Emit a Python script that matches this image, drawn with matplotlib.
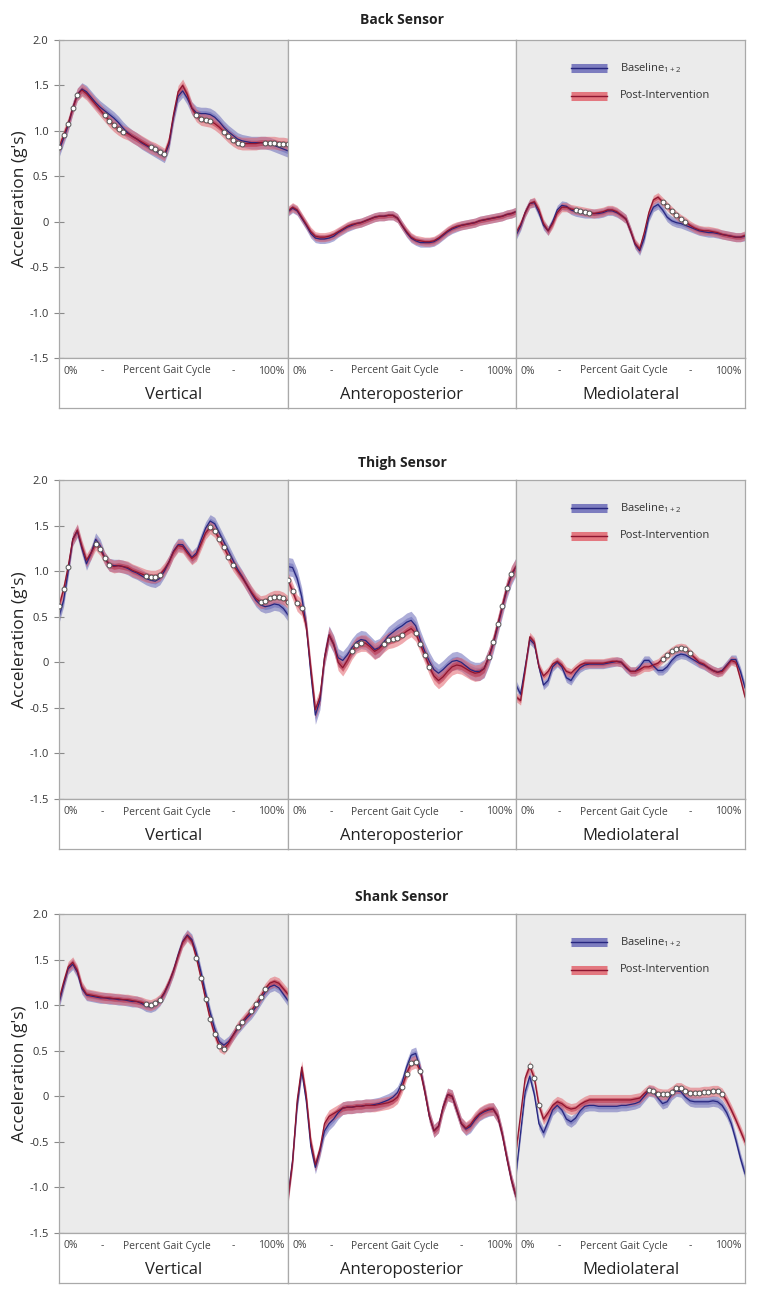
import numpy as np
import matplotlib
matplotlib.use("Agg")
import matplotlib.pyplot as plt

plt.rcParams['font.family'] = ['Open Sans', 'DejaVu Sans']
plt.rcParams['mathtext.fontset'] = 'custom'
plt.rcParams['mathtext.rm'] = 'Open Sans'

# ---------------- data ----------------
percent = list(range(0, 101, 2))

sensors = ["Back Sensor", "Thigh Sensor", "Shank Sensor"]
directions = ["Vertical", "Anteroposterior", "Mediolateral"]
ytick_values = [-1.5, -1.0, -0.5, 0, 0.5, 1.0, 1.5, 2.0]
ytick_labels = ["-1.5", "-1.0", "-0.5", "0", "0.5", "1.0", "1.5", "2.0"]
legend_labels = ["Baseline$_{1+2}$", "Post-Intervention"]

# Back sensor
back_vert_base = [0.78, 0.92, 1.06, 1.25, 1.40, 1.46, 1.43, 1.37, 1.31, 1.26, 1.22, 1.18, 1.14, 1.09, 1.03, 0.98,
                  0.94, 0.91, 0.87, 0.84, 0.81, 0.78, 0.75, 0.72, 0.85, 1.15, 1.38, 1.44, 1.36, 1.25, 1.20, 1.19,
                  1.19, 1.18, 1.15, 1.10, 1.04, 0.99, 0.95, 0.91, 0.89, 0.88, 0.87, 0.87, 0.87, 0.87, 0.86, 0.84,
                  0.82, 0.80, 0.78]
back_vert_post = [0.82, 0.95, 1.08, 1.25, 1.40, 1.45, 1.41, 1.35, 1.29, 1.23, 1.17, 1.11, 1.06, 1.02, 0.99, 0.97,
                  0.94, 0.91, 0.88, 0.85, 0.82, 0.80, 0.77, 0.74, 0.88, 1.18, 1.43, 1.50, 1.40, 1.25, 1.17, 1.13,
                  1.12, 1.11, 1.08, 1.04, 0.99, 0.94, 0.90, 0.87, 0.86, 0.86, 0.86, 0.86, 0.87, 0.87, 0.87, 0.87,
                  0.86, 0.86, 0.85]
back_vert_sig = [0, 2, 4, 6, 8, 20, 22, 24, 26, 28, 40, 42, 44, 46, 60, 62, 64, 66, 72, 74, 76, 78, 80,
                 90, 92, 94, 96, 98, 100]

back_ap_base = [0.11, 0.15, 0.12, 0.04, -0.04, -0.13, -0.18, -0.19, -0.19, -0.18, -0.16, -0.12, -0.09, -0.06,
                -0.04, -0.02, -0.01, 0.01, 0.03, 0.05, 0.06, 0.06, 0.07, 0.07, 0.04, -0.04, -0.12, -0.18, -0.21,
                -0.23, -0.23, -0.23, -0.22, -0.19, -0.15, -0.11, -0.08, -0.06, -0.04, -0.03, -0.02, -0.01, 0.01,
                0.02, 0.03, 0.04, 0.05, 0.06, 0.08, 0.09, 0.11]
back_ap_post = [0.12, 0.16, 0.13, 0.05, -0.03, -0.11, -0.16, -0.17, -0.17, -0.16, -0.14, -0.11, -0.08, -0.05,
                -0.03, -0.02, -0.01, 0.01, 0.03, 0.05, 0.06, 0.06, 0.07, 0.07, 0.04, -0.04, -0.11, -0.17, -0.20,
                -0.21, -0.22, -0.22, -0.21, -0.18, -0.14, -0.10, -0.07, -0.05, -0.04, -0.03, -0.02, -0.01, 0.01,
                0.02, 0.03, 0.04, 0.05, 0.06, 0.08, 0.09, 0.11]
back_ap_sig = []

back_ml_base = [-0.15, -0.05, 0.10, 0.20, 0.21, 0.10, -0.04, -0.10, 0.00, 0.13, 0.18, 0.17, 0.13, 0.11, 0.10,
                0.09, 0.09, 0.09, 0.09, 0.10, 0.12, 0.12, 0.10, 0.07, 0.03, -0.10, -0.25, -0.32, -0.18, 0.05,
                0.16, 0.19, 0.13, 0.05, 0.01, -0.01, -0.02, -0.04, -0.06, -0.08, -0.10, -0.11, -0.12, -0.12,
                -0.13, -0.14, -0.15, -0.16, -0.17, -0.17, -0.16]
back_ml_post = [-0.12, -0.03, 0.10, 0.20, 0.22, 0.13, -0.02, -0.10, -0.02, 0.10, 0.16, 0.16, 0.14, 0.13, 0.12,
                0.11, 0.10, 0.09, 0.10, 0.11, 0.13, 0.13, 0.11, 0.07, 0.03, -0.10, -0.24, -0.30, -0.12, 0.10,
                0.24, 0.27, 0.22, 0.17, 0.12, 0.07, 0.03, 0.00, -0.04, -0.07, -0.09, -0.10, -0.10, -0.11,
                -0.12, -0.14, -0.15, -0.16, -0.17, -0.17, -0.15]
back_ml_sig = [26, 28, 30, 32, 64, 66, 68, 70, 72, 74]

# Thigh sensor
thigh_vert_base = [0.50, 0.68, 1.00, 1.35, 1.44, 1.25, 1.08, 1.20, 1.35, 1.28, 1.14, 1.07, 1.06, 1.06, 1.05,
                   1.03, 1.00, 0.98, 0.95, 0.92, 0.90, 0.89, 0.92, 1.00, 1.10, 1.22, 1.29, 1.29, 1.22, 1.15,
                   1.20, 1.34, 1.47, 1.55, 1.52, 1.42, 1.32, 1.22, 1.12, 1.02, 0.94, 0.85, 0.76, 0.68, 0.63,
                   0.61, 0.62, 0.64, 0.63, 0.59, 0.52]
thigh_vert_post = [0.62, 0.80, 1.05, 1.35, 1.45, 1.27, 1.12, 1.20, 1.30, 1.24, 1.14, 1.07, 1.05, 1.06, 1.05,
                   1.04, 1.01, 0.99, 0.97, 0.95, 0.94, 0.94, 0.96, 1.02, 1.10, 1.21, 1.28, 1.27, 1.20, 1.14,
                   1.18, 1.30, 1.42, 1.48, 1.44, 1.35, 1.26, 1.16, 1.07, 1.00, 0.93, 0.85, 0.77, 0.70, 0.66,
                   0.67, 0.70, 0.72, 0.72, 0.70, 0.66]
thigh_vert_sig = [0, 2, 4, 16, 18, 20, 22, 38, 40, 42, 44, 66, 68, 70, 72, 74, 76, 88, 90, 92, 94, 96, 98, 100]

thigh_ap_base = [1.05, 1.04, 0.92, 0.72, 0.40, -0.12, -0.58, -0.42, 0.05, 0.30, 0.20, 0.05, 0.02, 0.08, 0.16,
                 0.22, 0.25, 0.24, 0.19, 0.14, 0.16, 0.22, 0.29, 0.33, 0.37, 0.40, 0.44, 0.46, 0.40, 0.25, 0.12,
                 0.01, -0.08, -0.12, -0.08, -0.03, 0.01, 0.02, 0.00, -0.04, -0.08, -0.10, -0.10, -0.07, 0.05,
                 0.20, 0.40, 0.60, 0.80, 0.95, 1.05]
thigh_ap_post = [0.90, 0.78, 0.65, 0.60, 0.40, -0.07, -0.52, -0.38, 0.05, 0.30, 0.20, 0.00, -0.06, 0.02, 0.12,
                 0.19, 0.21, 0.21, 0.17, 0.12, 0.15, 0.20, 0.24, 0.25, 0.27, 0.30, 0.34, 0.37, 0.32, 0.20, 0.08,
                 -0.05, -0.15, -0.20, -0.16, -0.10, -0.05, -0.03, -0.04, -0.07, -0.10, -0.12, -0.11, -0.07,
                 0.06, 0.22, 0.42, 0.62, 0.82, 0.97, 1.05]
thigh_ap_sig = [0, 2, 4, 6, 28, 30, 32, 42, 44, 46, 48, 50, 56, 58, 60, 62, 88, 90, 92, 94, 96, 98]

thigh_ml_base = [-0.25, -0.35, -0.05, 0.25, 0.20, -0.05, -0.25, -0.20, -0.05, 0.00, -0.05, -0.17, -0.20,
                 -0.12, -0.06, -0.03, -0.02, -0.02, -0.02, -0.02, -0.01, 0.00, 0.01, 0.00, -0.06, -0.10, -0.10,
                 -0.05, 0.02, 0.02, -0.04, -0.09, -0.09, -0.05, 0.02, 0.07, 0.09, 0.08, 0.05, 0.02, -0.01,
                 -0.03, -0.06, -0.09, -0.11, -0.09, -0.03, 0.03, 0.03, -0.10, -0.28]
thigh_ml_post = [-0.38, -0.42, -0.08, 0.28, 0.22, -0.05, -0.15, -0.10, -0.02, 0.01, -0.03, -0.10, -0.12,
                 -0.07, -0.03, -0.01, -0.01, -0.01, -0.01, -0.01, 0.00, 0.01, 0.01, 0.00, -0.05, -0.10, -0.10,
                 -0.08, -0.05, -0.05, -0.03, -0.01, 0.04, 0.08, 0.12, 0.15, 0.16, 0.15, 0.10, 0.05, 0.00,
                 -0.02, -0.06, -0.09, -0.11, -0.10, -0.04, 0.02, 0.00, -0.18, -0.38]
thigh_ml_sig = [64, 66, 68, 70, 72, 74, 76]

# Shank sensor
shank_vert_base = [1.02, 1.22, 1.40, 1.45, 1.36, 1.18, 1.11, 1.10, 1.09, 1.08, 1.08, 1.07, 1.07, 1.06, 1.06,
                   1.05, 1.04, 1.04, 1.02, 0.99, 0.98, 1.00, 1.05, 1.13, 1.24, 1.38, 1.55, 1.70, 1.77, 1.72,
                   1.57, 1.36, 1.13, 0.92, 0.74, 0.60, 0.56, 0.60, 0.67, 0.74, 0.80, 0.86, 0.91, 0.98, 1.06,
                   1.14, 1.20, 1.22, 1.19, 1.12, 1.05]
shank_vert_post = [1.06, 1.25, 1.42, 1.47, 1.38, 1.20, 1.12, 1.11, 1.10, 1.09, 1.08, 1.08, 1.07, 1.07, 1.06,
                   1.06, 1.05, 1.04, 1.03, 1.01, 1.00, 1.02, 1.06, 1.14, 1.25, 1.38, 1.54, 1.69, 1.76, 1.70,
                   1.52, 1.30, 1.07, 0.85, 0.68, 0.55, 0.52, 0.58, 0.67, 0.76, 0.82, 0.88, 0.94, 1.01, 1.09,
                   1.18, 1.24, 1.26, 1.24, 1.18, 1.12]
shank_vert_sig = [38, 40, 42, 44, 60, 62, 64, 66, 68, 70, 72, 78, 80, 84, 86, 88, 90]

shank_ap_base = [-1.10, -0.70, -0.10, 0.28, -0.05, -0.55, -0.78, -0.60, -0.38, -0.30, -0.25, -0.18, -0.13,
                 -0.12, -0.12, -0.11, -0.11, -0.10, -0.10, -0.09, -0.08, -0.06, -0.04, -0.01, 0.04, 0.15, 0.32,
                 0.45, 0.47, 0.30, 0.05, -0.22, -0.38, -0.33, -0.12, 0.02, 0.00, -0.15, -0.30, -0.36, -0.33,
                 -0.26, -0.20, -0.17, -0.15, -0.14, -0.22, -0.42, -0.68, -0.92, -1.10]
shank_ap_post = [-1.12, -0.72, -0.05, 0.32, 0.00, -0.50, -0.75, -0.58, -0.30, -0.22, -0.19, -0.16, -0.13,
                 -0.12, -0.12, -0.11, -0.11, -0.10, -0.10, -0.10, -0.09, -0.08, -0.07, -0.05, -0.01, 0.10, 0.25,
                 0.36, 0.38, 0.28, 0.05, -0.22, -0.38, -0.33, -0.12, 0.02, 0.00, -0.15, -0.30, -0.35, -0.31,
                 -0.24, -0.19, -0.16, -0.14, -0.14, -0.22, -0.42, -0.68, -0.92, -1.10]
shank_ap_sig = [50, 52, 54, 56, 58]

shank_ml_base = [-0.85, -0.40, 0.05, 0.22, 0.02, -0.30, -0.40, -0.28, -0.15, -0.10, -0.15, -0.25, -0.28,
                 -0.24, -0.16, -0.11, -0.10, -0.10, -0.11, -0.11, -0.11, -0.11, -0.11, -0.10, -0.10, -0.09,
                 -0.08, -0.06, 0.00, 0.06, 0.05, -0.02, -0.08, -0.06, 0.02, 0.06, 0.05, -0.01, -0.05, -0.06,
                 -0.06, -0.06, -0.06, -0.05, -0.06, -0.10, -0.18, -0.30, -0.48, -0.68, -0.85]
shank_ml_post = [-0.60, -0.20, 0.20, 0.33, 0.20, -0.10, -0.25, -0.18, -0.10, -0.06, -0.08, -0.12, -0.14,
                 -0.13, -0.09, -0.06, -0.04, -0.04, -0.04, -0.04, -0.04, -0.04, -0.04, -0.04, -0.04, -0.04,
                 -0.03, -0.02, 0.03, 0.07, 0.06, 0.03, 0.02, 0.02, 0.05, 0.09, 0.09, 0.06, 0.04, 0.04, 0.04,
                 0.05, 0.05, 0.06, 0.06, 0.03, -0.05, -0.15, -0.26, -0.38, -0.50]
shank_ml_sig = [6, 8, 10, 58, 60, 62, 64, 66, 68, 70, 72, 74, 76, 78, 80, 82, 84, 86, 88, 90]

# spread (half-width of shaded band, g) for baseline / post per panel
back_spread_base = [0.07, 0.05, 0.05]
back_spread_post = [0.07, 0.05, 0.05]
thigh_spread_base = [0.07, 0.10, 0.05]
thigh_spread_post = [0.07, 0.09, 0.05]
shank_spread_base = [0.06, 0.07, 0.06]
shank_spread_post = [0.06, 0.07, 0.06]

rows = [
    ([back_vert_base, back_ap_base, back_ml_base], [back_vert_post, back_ap_post, back_ml_post],
     [back_vert_sig, back_ap_sig, back_ml_sig], back_spread_base, back_spread_post),
    ([thigh_vert_base, thigh_ap_base, thigh_ml_base], [thigh_vert_post, thigh_ap_post, thigh_ml_post],
     [thigh_vert_sig, thigh_ap_sig, thigh_ml_sig], thigh_spread_base, thigh_spread_post),
    ([shank_vert_base, shank_ap_base, shank_ml_base], [shank_vert_post, shank_ap_post, shank_ml_post],
     [shank_vert_sig, shank_ap_sig, shank_ml_sig], shank_spread_base, shank_spread_post),
]

# ---------------- style / layout ----------------
W, H = 757, 1294
fig = plt.figure(figsize=(W / 100, H / 100), dpi=100)
fig.patch.set_facecolor("white")

def add_px_axes(x0, y0, x1, y1):
    return fig.add_axes([x0 / W, 1 - y1 / H, (x1 - x0) / W, (y1 - y0) / H])

col_edges = [(59, 288), (288, 516), (516, 745)]
row_geom = [(40, 358, 408, 20), (480, 799, 849, 463), (914, 1233, 1283, 897)]
panel_bg = ["#ebebeb", "white", "#ebebeb"]
spine_col = "#a9a9a9"

blue_band = "#6a6ab8"
blue_line = "#27277f"
red_band = "#e2646e"
red_line = "#8e1630"

x = np.array(percent, dtype=float)

for r, (bases, posts, sigs, sb, sp) in enumerate(rows):
    top, bot, strip_bot, ty = row_geom[r]
    fig.text((59 + 745) / 2 / W, 1 - ty / H, sensors[r], ha="center", va="center",
             fontsize=10, fontweight="bold", color="#222222")
    for c in range(3):
        x0, x1 = col_edges[c]
        ax = add_px_axes(x0, top, x1, bot)
        ax.set_facecolor(panel_bg[c])
        ax.set_xlim(0, 100)
        ax.set_ylim(-1.5, 2.0)
        for s in ax.spines.values():
            s.set_color(spine_col)
            s.set_linewidth(0.9)
        ax.set_xticks([])
        if c == 0:
            ax.set_yticks(ytick_values)
            ax.set_yticklabels(ytick_labels)
            ax.tick_params(axis="y", direction="inout", length=7, width=0.8, color="#8a8a8a",
                           labelsize=8, labelcolor="#333333", pad=4)
            ax.set_ylabel("Acceleration (g's)", fontsize=12.5, color="#222222", labelpad=1)
        else:
            ax.set_yticks([])

        b = np.array(bases[c])
        p = np.array(posts[c])
        # baseline bands
        ax.fill_between(x, b - sb[c], b + sb[c], color=blue_band, alpha=0.55, lw=0)
        ax.fill_between(x, b - sb[c] * 0.45, b + sb[c] * 0.45, color=blue_band, alpha=0.55, lw=0)
        # post bands
        ax.fill_between(x, p - sp[c], p + sp[c], color=red_band, alpha=0.55, lw=0)
        ax.fill_between(x, p - sp[c] * 0.45, p + sp[c] * 0.45, color="#c0334a", alpha=0.55, lw=0)
        ax.plot(x, b, color=blue_line, lw=0.9)
        ax.plot(x, p, color=red_line, lw=0.9)

        sig = sigs[c]
        if sig:
            idx = [percent.index(v) for v in sig]
            ax.plot(x[idx], p[idx], ls="none", marker="o", ms=3.5, mfc="white", mec="#555555", mew=0.7,
                    zorder=5)

        if c == 2:
            # legend
            for k, (bc, lc) in enumerate([(blue_band, blue_line), (red_band, red_line)]):
                yy = 1 - (28 + 28 * k) / (bot - top)
                ax.plot([0.24, 0.397], [yy, yy], transform=ax.transAxes, color=bc, lw=6.5,
                        alpha=0.85, solid_capstyle="butt")
                ax.plot([0.24, 0.397], [yy, yy], transform=ax.transAxes, color=lc, lw=1.0)
                ax.text(0.454, yy, legend_labels[k], transform=ax.transAxes, fontsize=8,
                        va="center", ha="left", color="#333333")

        # strip below
        sax = add_px_axes(x0, bot, x1, strip_bot)
        sax.set_facecolor("white")
        sax.set_xlim(0, 1)
        sax.set_ylim(0, 1)
        sax.set_xticks([])
        sax.set_yticks([])
        for s in sax.spines.values():
            s.set_color(spine_col)
            s.set_linewidth(0.9)
        sax.text(0.02, 0.74, "0%", fontsize=7.5, color="#444444", ha="left", va="center")
        sax.text(0.19, 0.74, "-", fontsize=7.5, color="#444444", ha="center", va="center")
        sax.text(0.47, 0.74, "Percent Gait Cycle", fontsize=7.5, color="#444444", ha="center", va="center")
        sax.text(0.76, 0.74, "-", fontsize=7.5, color="#444444", ha="center", va="center")
        sax.text(0.985, 0.74, "100%", fontsize=7.5, color="#444444", ha="right", va="center")
        sax.text(0.5, 0.26, directions[c], fontsize=12, color="#222222", ha="center", va="center")

fig.savefig("out.png", dpi=100, facecolor="white")
